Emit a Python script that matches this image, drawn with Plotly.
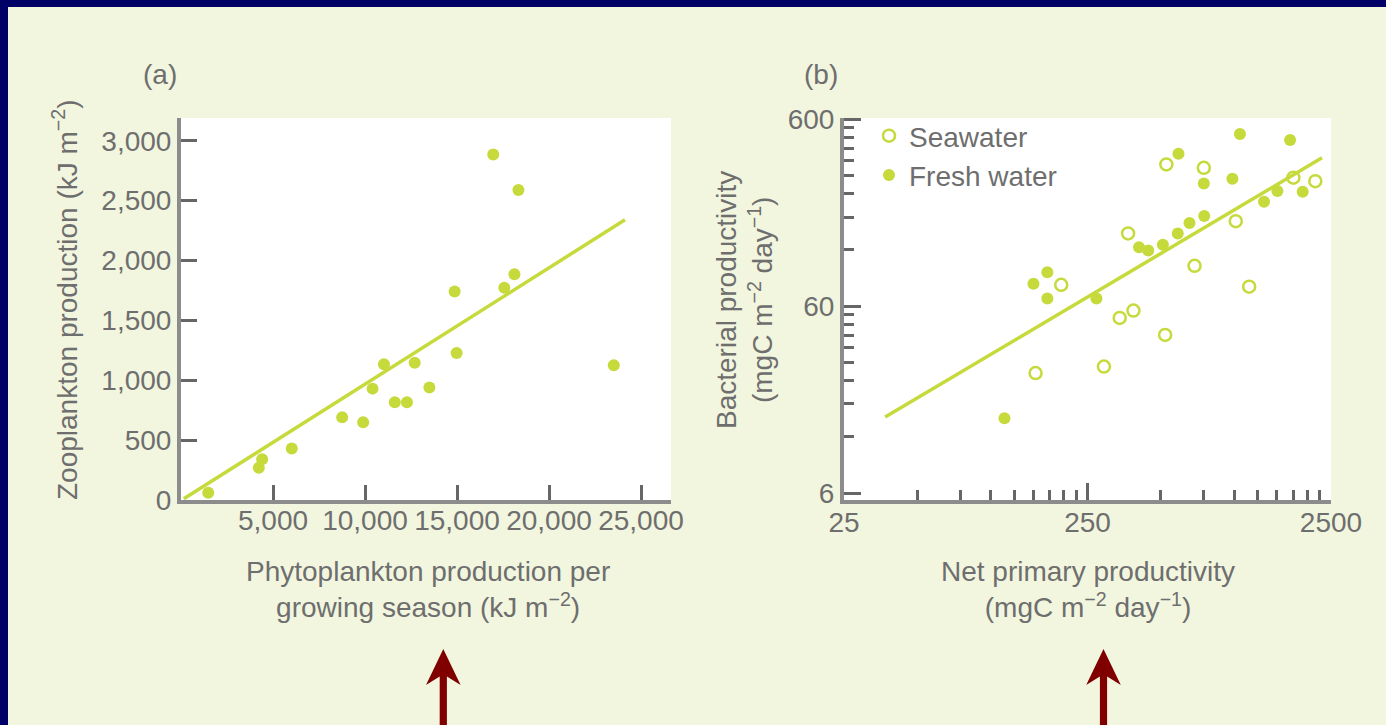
import plotly.graph_objects as go
import math

# ---------------- data ----------------
# Panel (a): phytoplankton vs zooplankton production (kJ m^-2)
phyto_a = [1480, 4230, 4410, 6020, 8760, 9900, 10410, 11030, 11620, 12280,
           12700, 13500, 14980, 23520, 14870, 17570, 18120, 16970, 18340]
zoo_a = [60, 270, 340, 430, 690, 650, 930, 1133, 817, 817,
         1147, 939, 1228, 1125, 1742, 1772, 1886, 2886, 2589]
fit_a_x = [150, 24130]
fit_a_y = [10, 2340]

# Panel (b): net primary productivity vs bacterial productivity (mgC m^-2 day^-1)
sea_npp = [527, 751, 2155, 1752, 1016, 367, 688, 1153, 195, 386, 339, 521, 292, 153]
sea_bp = [344, 330, 280, 292, 171, 147, 98.6, 76.3, 78.1, 56.8, 51.9, 42.1, 28.5, 26.3]
fresh_npp = [1057, 1698, 591, 984, 751, 1506, 1913, 1327, 754, 656,
             587, 510, 407, 444, 171, 150, 171, 272, 114]
fresh_bp = [501, 465, 392, 288, 272, 248, 246, 217, 182, 167,
            147, 128, 124, 119, 91, 79, 66, 66, 15.1]
fit_b_x = [36.9, 2296]
fit_b_y = [15.3, 373]

xa_ticks = [5000, 10000, 15000, 20000, 25000]
xa_labels = ["5,000", "10,000", "15,000", "20,000", "25,000"]
ya_ticks = [0, 500, 1000, 1500, 2000, 2500, 3000]
ya_labels = ["0", "500", "1,000", "1,500", "2,000", "2,500", "3,000"]
xb_ticks = [25, 250, 2500]
xb_labels = ["25", "250", "2500"]
xb_minor = [50, 75, 100, 125, 150, 175, 200, 225,
            500, 750, 1000, 1250, 1500, 1750, 2000, 2250]
yb_ticks = [6, 60, 600]
yb_labels = ["6", "60", "600"]
yb_minor = [12, 18, 24, 30, 36, 42, 48, 54,
            120, 180, 240, 300, 360, 420, 480, 540]

# ---------------- style ----------------
W, H = 1386, 725
GREEN = "#c6da3c"
TXT = "#6e6e6e"
FONT = "Liberation Sans, Arial, sans-serif"
FS = 28
BG = "#f2f6df"
NAVY = "#000066"
ARROW = "#800000"


def px(x):
    return x / W


def py(y):
    return 1 - y / H


fig = go.Figure()

# panel (a)
fig.add_trace(go.Scatter(x=fit_a_x, y=fit_a_y, mode="lines",
                         line=dict(color=GREEN, width=3.5),
                         showlegend=False, xaxis="x", yaxis="y"))
fig.add_trace(go.Scatter(x=phyto_a, y=zoo_a, mode="markers",
                         marker=dict(color=GREEN, size=12, line=dict(width=0)),
                         showlegend=False, xaxis="x", yaxis="y"))

# panel (b)
fig.add_trace(go.Scatter(x=fit_b_x, y=fit_b_y, mode="lines",
                         line=dict(color=GREEN, width=3.5),
                         showlegend=False, xaxis="x2", yaxis="y2"))
fig.add_trace(go.Scatter(x=sea_npp, y=sea_bp, mode="markers", name="Seawater",
                         marker=dict(symbol="circle-open", color=GREEN, size=12,
                                     line=dict(width=2.5, color=GREEN)),
                         xaxis="x2", yaxis="y2"))
fig.add_trace(go.Scatter(x=fresh_npp, y=fresh_bp, mode="markers", name="Fresh water",
                         marker=dict(color=GREEN, size=12, line=dict(width=0)),
                         xaxis="x2", yaxis="y2"))

axis_common = dict(showgrid=False, zeroline=False, showline=True,
                   linecolor="#8c8c8c", linewidth=4, ticks="inside",
                   tickcolor="#666666", tickwidth=3, tickangle=0,
                   tickfont=dict(family=FONT, size=FS, color=TXT),
                   fixedrange=True)

fig.update_layout(
    width=W, height=H,
    margin=dict(l=0, r=0, t=0, b=0, autoexpand=False),
    paper_bgcolor=BG, plot_bgcolor="white",
    font=dict(family=FONT, size=FS, color=TXT),
    xaxis=dict(domain=[px(181), px(671)], range=[0, 26630],
               tickmode="array", tickvals=xa_ticks, ticktext=xa_labels,
               ticklen=15, ticklabelstandoff=-8, anchor="y", **axis_common),
    yaxis=dict(domain=[py(500), py(118)], range=[0, 3190],
               tickmode="array", tickvals=ya_ticks, ticktext=ya_labels,
               ticklen=16, anchor="x", **axis_common),
    xaxis2=dict(domain=[px(844), px(1331)], type="log",
                range=[math.log10(25), math.log10(2500)],
                tickmode="array", tickvals=xb_ticks, ticktext=xb_labels,
                ticklen=17, ticklabelstandoff=-6, anchor="y2",
                minor=dict(tickmode="array", tickvals=xb_minor, ticks="inside",
                           ticklen=10, tickwidth=3, tickcolor="#666666"),
                **axis_common),
    yaxis2=dict(domain=[py(500), py(118)], type="log",
                range=[0.741, 2.785],
                tickmode="array", tickvals=yb_ticks, ticktext=yb_labels,
                ticklen=17, anchor="x2",
                minor=dict(tickmode="array", tickvals=yb_minor, ticks="inside",
                           ticklen=10, tickwidth=3, tickcolor="#666666"),
                **axis_common),
    legend=dict(x=px(869), y=py(111), xanchor="left", yanchor="top",
                bgcolor="rgba(0,0,0,0)", borderwidth=0,
                font=dict(family=FONT, size=FS, color=TXT)),
    showlegend=True,
)

ann = dict(xref="paper", yref="paper", showarrow=False,
           font=dict(family=FONT, size=FS, color=TXT))
annotations = [
    dict(text="(a)", x=px(160), y=py(75), xanchor="center", yanchor="middle", **ann),
    dict(text="(b)", x=px(821), y=py(75), xanchor="center", yanchor="middle", **ann),
    dict(text="Zooplankton production (kJ m<sup>−2</sup>)", textangle=-90,
         x=px(65), y=py(300), xanchor="center", yanchor="middle", **ann),
    dict(text="Phytoplankton production per<br>growing season (kJ m<sup>−2</sup>)",
         x=px(428), y=py(589), xanchor="center", yanchor="middle", **ann),
    dict(text="Bacterial productivity<br>(mgC m<sup>−2</sup> day<sup>−1</sup>)",
         textangle=-90, x=px(745), y=py(300), xanchor="center", yanchor="middle", **ann),
    dict(text="Net primary productivity<br>(mgC m<sup>−2</sup> day<sup>−1</sup>)",
         x=px(1088), y=py(589), xanchor="center", yanchor="middle", **ann),
]
fig.update_layout(annotations=annotations)

# navy frame (top and left), kept inside the figure
shapes = [
    dict(type="rect", xref="paper", yref="paper", x0=0, x1=1, y0=py(7), y1=1,
         fillcolor=NAVY, line=dict(width=0), layer="above"),
    dict(type="rect", xref="paper", yref="paper", x0=0, x1=px(8), y0=0, y1=1,
         fillcolor=NAVY, line=dict(width=0), layer="above"),
]


def arrow_path(cx):
    pts = [(cx, 649), (cx + 17.3, 685), (cx + 3.6, 676.5), (cx + 3.6, 725),
           (cx - 3.6, 725), (cx - 3.6, 676.5), (cx - 17.3, 685)]
    return "M " + " L ".join(f"{px(x):.5f},{py(y):.5f}" for x, y in pts) + " Z"


for cx in (443.3, 1103.5):
    shapes.append(dict(type="path", xref="paper", yref="paper", path=arrow_path(cx),
                       fillcolor=ARROW, line=dict(width=0), layer="above"))

fig.update_layout(shapes=shapes)

fig.write_html(
    "out.html",
    config={"displayModeBar": False},
    post_script=("document.body.style.margin='0';"
                 "document.body.style.overflow='hidden';"
                 "document.documentElement.style.overflow='hidden';"),
)
